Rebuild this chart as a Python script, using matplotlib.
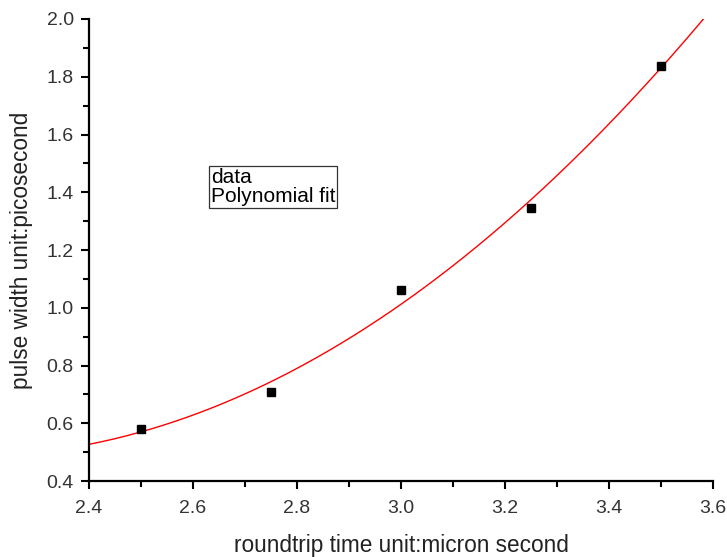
import numpy as np
import matplotlib
matplotlib.use("Agg")
import matplotlib.pyplot as plt
from matplotlib.ticker import MultipleLocator

x_data = [2.5, 2.75, 3.0, 3.25, 3.5]
y_data = [0.58, 0.708, 1.061, 1.345, 1.837]
x_label = "roundtrip time unit:micron second"
y_label = "pulse width unit:picosecond"
legend_labels = ["data", "Polynomial fit"]

plt.rcParams['font.family'] = ['Liberation Sans', 'DejaVu Sans']

fig = plt.figure(figsize=(7.27, 5.57), dpi=100)
ax = fig.add_axes([0.1224, 0.1364, 0.8583, 0.8295])

coef = np.polyfit(x_data, y_data, 2)
xf = np.linspace(2.4, 3.6, 300)
yf = np.polyval(coef, xf)

sc, = ax.plot(x_data, y_data, linestyle='none', marker='s', markersize=6.3,
              color='black', label=legend_labels[0], zorder=3)
fl, = ax.plot(xf, yf, color='#ff0000', linewidth=1.0, label=legend_labels[1], zorder=2)

ax.set_xlim(2.4, 3.6)
ax.set_ylim(0.4, 2.0)
ax.xaxis.set_major_locator(MultipleLocator(0.2))
ax.xaxis.set_minor_locator(MultipleLocator(0.1))
ax.yaxis.set_major_locator(MultipleLocator(0.2))
ax.yaxis.set_minor_locator(MultipleLocator(0.1))
ax.xaxis.set_major_formatter(matplotlib.ticker.FormatStrFormatter('%.1f'))
ax.yaxis.set_major_formatter(matplotlib.ticker.FormatStrFormatter('%.1f'))

for s in ['top', 'right']:
    ax.spines[s].set_visible(False)
for s in ['left', 'bottom']:
    ax.spines[s].set_linewidth(1.6)

ax.tick_params(which='major', direction='out', length=6, width=1.5,
               labelsize=14, labelcolor='#333333', pad=5)
ax.tick_params(axis='x', which='major', pad=8)
ax.tick_params(which='minor', direction='out', length=4, width=1.5)

ax.set_xlabel(x_label, fontsize=16.3, color='#222222', labelpad=12)
ax.set_ylabel(y_label, fontsize=16.3, color='#222222', labelpad=10)

leg = ax.legend(handles=[sc, fl], labels=legend_labels, loc='upper left',
                bbox_to_anchor=(0.192, 0.682), handlelength=0, handletextpad=0,
                fontsize=15, frameon=True, fancybox=False, borderaxespad=0,
                borderpad=0.1, labelspacing=0.0)
for h in leg.legend_handles:
    h.set_visible(False)
leg.get_frame().set_edgecolor('black')
leg.get_frame().set_linewidth(0.9)

fig.savefig("out.png", dpi=100)
